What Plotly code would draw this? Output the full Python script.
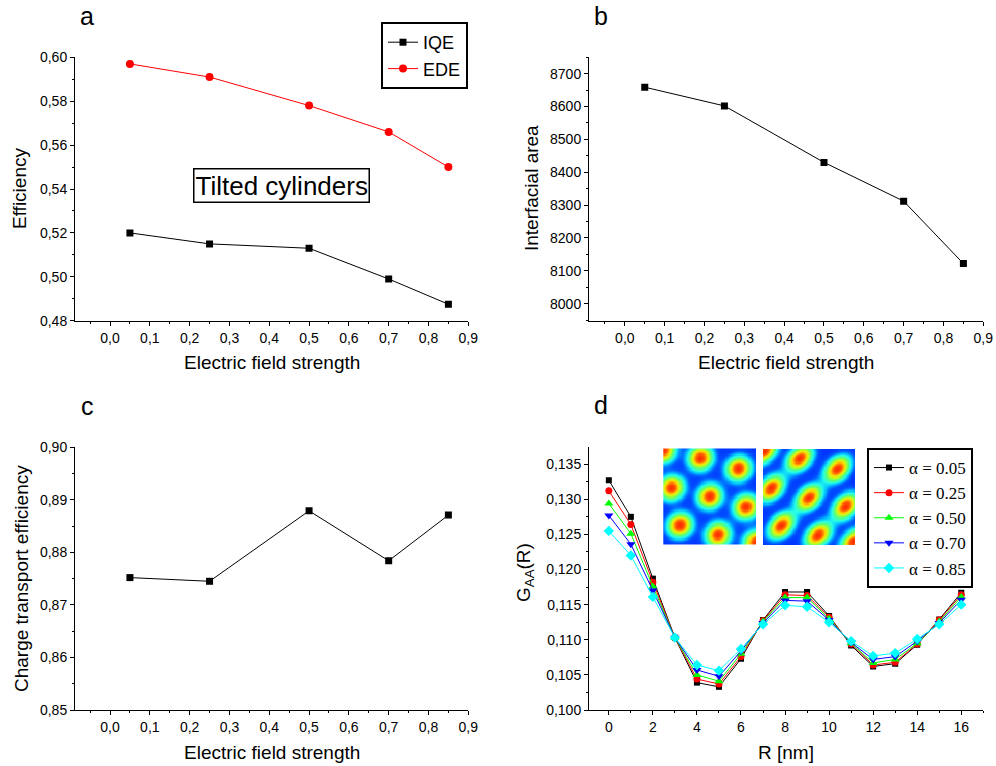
import numpy as np
import plotly.graph_objects as go

W, H = 996, 766

# ---------------- data ----------------
field = [0.05, 0.25, 0.5, 0.7, 0.85]
iqe = [0.520, 0.515, 0.513, 0.499, 0.4875]
ede = [0.597, 0.591, 0.578, 0.566, 0.550]
interfacial_area = [8659, 8602, 8430, 8312, 8122]
charge_transport = [0.8752, 0.8745, 0.8879, 0.8784, 0.8871]

r_nm = list(range(17))
g_005 = [0.1327, 0.1275, 0.1187, 0.1103, 0.1039, 0.1033, 0.1073, 0.1128, 0.1168,
         0.1168, 0.1134, 0.1092, 0.1062, 0.1066, 0.1093, 0.1129, 0.1167]
g_025 = [0.1312, 0.1264, 0.1182, 0.1103, 0.1044, 0.1037, 0.1076, 0.1127, 0.1164,
         0.1163, 0.1132, 0.1094, 0.1064, 0.1068, 0.1094, 0.1128, 0.1164]
g_050 = [0.1294, 0.1251, 0.1176, 0.1103, 0.1050, 0.1041, 0.1080, 0.1126, 0.1160,
         0.1160, 0.1130, 0.1095, 0.1067, 0.1072, 0.1095, 0.1126, 0.1161]
g_070 = [0.1277, 0.1236, 0.1170, 0.1103, 0.1057, 0.1048, 0.1084, 0.1124, 0.1156,
         0.1155, 0.1128, 0.1096, 0.1072, 0.1076, 0.1098, 0.1124, 0.1157]
g_085 = [0.1255, 0.1220, 0.1161, 0.1103, 0.1064, 0.1056, 0.1087, 0.1122, 0.1149,
         0.1147, 0.1125, 0.1098, 0.1077, 0.1081, 0.1101, 0.1122, 0.1150]
alpha_labels = ["α = 0.05", "α = 0.25", "α = 0.50", "α = 0.70", "α = 0.85"]

field_ticks = [0.0, 0.1, 0.2, 0.3, 0.4, 0.5, 0.6, 0.7, 0.8, 0.9]
field_ticktext = ["0,0", "0,1", "0,2", "0,3", "0,4", "0,5", "0,6", "0,7", "0,8", "0,9"]
eff_ticks = [0.48, 0.50, 0.52, 0.54, 0.56, 0.58, 0.60]
eff_ticktext = ["0,48", "0,50", "0,52", "0,54", "0,56", "0,58", "0,60"]
area_ticks = [8000, 8100, 8200, 8300, 8400, 8500, 8600, 8700]
area_ticktext = ["8000", "8100", "8200", "8300", "8400", "8500", "8600", "8700"]
cte_ticks = [0.85, 0.86, 0.87, 0.88, 0.89, 0.90]
cte_ticktext = ["0,85", "0,86", "0,87", "0,88", "0,89", "0,90"]
g_ticks = [0.100, 0.105, 0.110, 0.115, 0.120, 0.125, 0.130, 0.135]
g_ticktext = ["0,100", "0,105", "0,110", "0,115", "0,120", "0,125", "0,130", "0,135"]
r_ticks = [0, 2, 4, 6, 8, 10, 12, 14, 16]
r_ticktext = ["0", "2", "4", "6", "8", "10", "12", "14", "16"]

# inset blob centres (fraction of image width, fraction of image height from top)
inset1_centers = [(0.40, 0.10), (0.81, 0.21), (0.09, 0.41), (0.50, 0.50), (0.89, 0.61),
                  (0.18, 0.80), (0.59, 0.90), (0.00, 0.02), (1.00, 0.98)]
inset2_centers = [(0.40, 0.10), (0.81, 0.21), (0.09, 0.41), (0.50, 0.51), (0.90, 0.60),
                  (0.20, 0.80), (0.60, 0.90), (0.01, 0.02), (0.99, 0.97)]

SANS = "Liberation Sans, Arial, sans-serif"
SERIF = "Liberation Serif, Times New Roman, serif"


def px_x(p):
    return p / W


def px_y(p):
    return 1 - p / H


fig = go.Figure()

# ---- panel a ----
fig.add_trace(go.Scatter(x=field, y=iqe, mode="lines+markers", name="IQE",
                         line=dict(color="black", width=1),
                         marker=dict(symbol="square", size=7, color="black", line=dict(width=0)),
                         xaxis="x", yaxis="y", legend="legend"))
fig.add_trace(go.Scatter(x=field, y=ede, mode="lines+markers", name="EDE",
                         line=dict(color="red", width=1),
                         marker=dict(symbol="circle", size=8, color="red", line=dict(width=0)),
                         xaxis="x", yaxis="y", legend="legend"))
# ---- panel b ----
fig.add_trace(go.Scatter(x=field, y=interfacial_area, mode="lines+markers", showlegend=False,
                         line=dict(color="black", width=1),
                         marker=dict(symbol="square", size=7, color="black", line=dict(width=0)),
                         xaxis="x2", yaxis="y2"))
# ---- panel c ----
fig.add_trace(go.Scatter(x=field, y=charge_transport, mode="lines+markers", showlegend=False,
                         line=dict(color="black", width=1),
                         marker=dict(symbol="square", size=7, color="black", line=dict(width=0)),
                         xaxis="x3", yaxis="y3"))
# ---- panel d ----
d_series = [g_005, g_025, g_050, g_070, g_085]
d_colors = ["black", "red", "#00ff00", "blue", "cyan"]
d_symbols = ["square", "circle", "triangle-up", "triangle-down", "diamond"]
d_sizes = [6, 7, 8, 8, 8]
for ys, col, sym, sz, lab in zip(d_series, d_colors, d_symbols, d_sizes, alpha_labels):
    fig.add_trace(go.Scatter(x=r_nm, y=ys, mode="lines+markers", name=lab,
                             line=dict(color=col, width=1),
                             marker=dict(symbol=sym, size=sz, color=col, line=dict(width=0)),
                             xaxis="x4", yaxis="y4", legend="legend2"))

# ---- insets (morphology images) ----
N = 90
u = np.linspace(0, 1, N)
v = np.linspace(0, 1, N)
U, V = np.meshgrid(u, v)


def field_img(centers, s_major, s_minor, ang):
    z = np.zeros_like(U)
    ca, sa = np.cos(ang), np.sin(ang)
    for (cx, cy) in centers:
        dx = U - cx
        dy = (V - cy) * 1.04
        a = dx * ca + dy * sa
        b = -dx * sa + dy * ca
        z += np.exp(-(a ** 2) / (2 * s_major ** 2) - (b ** 2) / (2 * s_minor ** 2))
    return np.clip(z, 0, 1)


z1 = field_img(inset1_centers, 0.088, 0.082, -np.pi / 4)
z2 = field_img(inset2_centers, 0.105, 0.072, -np.pi / 4)
jetlike = [[0.0, "rgb(0,45,255)"], [0.07, "rgb(0,80,255)"], [0.16, "rgb(0,190,255)"],
           [0.26, "rgb(40,255,230)"], [0.40, "rgb(90,255,120)"], [0.56, "rgb(190,255,30)"],
           [0.70, "rgb(255,215,0)"], [0.85, "rgb(255,110,0)"], [1.0, "rgb(255,45,0)"]]
fig.add_trace(go.Heatmap(z=z1, x=u, y=v, colorscale=jetlike, zmin=0, zmax=1, showscale=False,
                         xaxis="x5", yaxis="y5", hoverinfo="skip"))
fig.add_trace(go.Heatmap(z=z2, x=u, y=v, colorscale=jetlike, zmin=0, zmax=1, showscale=False,
                         xaxis="x6", yaxis="y6", hoverinfo="skip"))

# ---------------- axes ----------------
tickfont = dict(family=SANS, size=14, color="black")


def ax(domain, anchor, rng, tickvals, ticktext, minor_tick0, minor_dtick):
    return dict(domain=domain, anchor=anchor, range=rng, tickmode="array",
                tickvals=tickvals, ticktext=ticktext, showline=True, linecolor="black",
                linewidth=1, ticks="outside", ticklen=4, tickwidth=1, tickcolor="black",
                showgrid=False, zeroline=False, mirror=False, tickfont=tickfont,
                minor=dict(ticks="outside", ticklen=2, tickwidth=1, tickcolor="black",
                           tickmode="linear", tick0=minor_tick0, dtick=minor_dtick,
                           showgrid=False))


ax_a_x = [px_x(75), px_x(468.3)]
ax_b_x = [px_x(589), px_x(983.3)]
ax_top_y = [px_y(320.7), px_y(57.3)]
ax_bot_y = [px_y(710), px_y(447.3)]

inset_hidden = dict(visible=False, showgrid=False, zeroline=False, fixedrange=True)

fig.update_layout(
    width=W, height=H,
    margin=dict(l=0, r=0, t=0, b=0),
    template="none",
    paper_bgcolor="white", plot_bgcolor="white",
    font=dict(family=SANS, color="black"),
    xaxis=ax(ax_a_x, "y", [-0.088, 0.9], field_ticks, field_ticktext, 0.05, 0.1),
    yaxis=ax(ax_top_y, "x", [0.48, 0.60], eff_ticks, eff_ticktext, 0.49, 0.02),
    xaxis2=ax(ax_b_x, "y2", [-0.09, 0.9], field_ticks, field_ticktext, 0.05, 0.1),
    yaxis2=ax(ax_top_y, "x2", [7948, 8750], area_ticks, area_ticktext, 8050, 100),
    xaxis3=ax(ax_a_x, "y3", [-0.088, 0.9], field_ticks, field_ticktext, 0.05, 0.1),
    yaxis3=ax(ax_bot_y, "x3", [0.85, 0.90], cte_ticks, cte_ticktext, 0.855, 0.01),
    xaxis4=ax(ax_b_x, "y4", [-0.9, 17.0], r_ticks, r_ticktext, 1, 2),
    yaxis4=ax(ax_bot_y, "x4", [0.100, 0.1374], g_ticks, g_ticktext, 0.1025, 0.005),
    xaxis5=dict(domain=[px_x(663.3), px_x(756)], anchor="y5", range=[0, 1], **inset_hidden),
    yaxis5=dict(domain=[px_y(544.5), px_y(448.5)], anchor="x5", range=[1, 0], **inset_hidden),
    xaxis6=dict(domain=[px_x(763), px_x(855)], anchor="y6", range=[0, 1], **inset_hidden),
    yaxis6=dict(domain=[px_y(545), px_y(449)], anchor="x6", range=[1, 0], **inset_hidden),
    legend=dict(x=px_x(468), xanchor="right", y=px_y(22), yanchor="top",
                bgcolor="white", bordercolor="black", borderwidth=2,
                font=dict(family=SANS, size=18, color="black"), tracegroupgap=0),
    legend2=dict(x=px_x(973), xanchor="right", y=px_y(448), yanchor="top",
                 bgcolor="white", bordercolor="black", borderwidth=2,
                 font=dict(family=SERIF, size=17, color="black"), tracegroupgap=0),
    showlegend=True,
)

# ---------------- text annotations ----------------
ann = []


def text(x, y, s, size, angle=0, family=SANS):
    ann.append(dict(x=px_x(x), y=px_y(y), xref="paper", yref="paper", text=s,
                    showarrow=False, xanchor="center", yanchor="middle", textangle=angle,
                    font=dict(family=family, size=size, color="black")))


text(87, 16, "a", 25)
text(601, 16, "b", 25)
text(87, 406, "c", 25)
text(601, 405, "d", 25)

text(271.5, 362, "Electric field strength", 19)
text(786, 362, "Electric field strength", 19)
text(271.5, 752, "Electric field strength", 19)
text(786, 752, "R [nm]", 19)

text(20, 189, "Efficiency", 19, -90)
text(531, 188, "Interfacial area", 19, -90)
text(21, 579, "Charge transport efficiency", 19, -90)
text(525, 573, "G<sub>AA</sub>(R)", 19, -90)

ann.append(dict(x=px_x(281), y=px_y(185), xref="paper", yref="paper",
                text="Tilted cylinders", showarrow=False, xanchor="center", yanchor="middle",
                bgcolor="white", bordercolor="black", borderwidth=1.5, borderpad=1,
                font=dict(family=SANS, size=26, color="black")))

fig.update_layout(annotations=ann)

fig.write_html("out.html")
